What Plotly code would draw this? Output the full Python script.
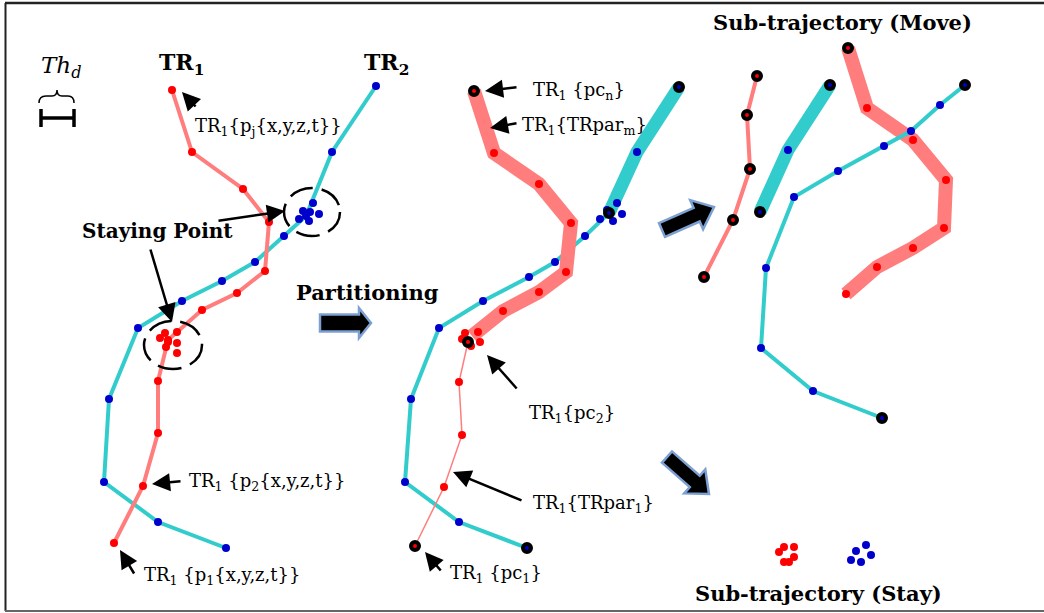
import plotly.graph_objects as go

# ---------------- data (diagram coordinates, y grows downward) ----------------
# Left panel: raw trajectories TR1 (red) and TR2 (teal)
tr1_x = [172, 192, 243, 269, 265, 237, 202, 168, 158, 158, 143, 114]
tr1_y = [90, 152, 189, 222, 271, 293, 310, 340, 381, 433, 486, 543]
tr1_stay_x = [165, 177, 160, 168, 177, 166, 177]
tr1_stay_y = [333, 332, 338, 342, 343, 347, 353]
tr2_x = [376, 332, 306, 284, 255, 222, 182, 138, 109, 104, 158, 226]
tr2_y = [86, 152, 216, 236, 262, 281, 301, 328, 399, 482, 522, 548]
tr2_stay_x = [313, 303, 310, 319, 299, 309]
tr2_stay_y = [203, 211, 212, 214, 219, 221]

# Middle panel: partitioned trajectories
m_tr1_thick_x = [474, 494, 539, 571, 566, 539, 503, 472]
m_tr1_thick_y = [91, 153, 184, 223, 272, 292, 311, 336]
m_tr1_thin_x = [468, 459, 462, 444, 415]
m_tr1_thin_y = [342, 382, 435, 487, 546]
m_tr1_stay_x = [465, 478, 462, 480, 471]
m_tr1_stay_y = [333, 332, 339, 342, 346]
m_tr1_pc_x = [474, 468, 415]
m_tr1_pc_y = [91, 342, 546]
m_tr2_thick_x = [679, 637, 609]
m_tr2_thick_y = [87, 152, 213]
m_tr2_thin_x = [609, 585, 555, 529, 483, 439, 411, 405, 459, 527]
m_tr2_thin_y = [213, 236, 262, 277, 301, 328, 399, 482, 522, 548]
m_tr2_stay_x = [617, 607, 622, 600, 613]
m_tr2_stay_y = [203, 210, 214, 219, 221]
m_tr2_pc_x = [679, 609, 527]
m_tr2_pc_y = [87, 213, 548]

# Right panel: sub-trajectories (move)
r_red_thin_x = [757, 747, 750, 733, 704]
r_red_thin_y = [76, 115, 169, 220, 277]
r_teal_thick_x = [830, 788, 760]
r_teal_thick_y = [85, 150, 212]
r_teal_thin_x = [965, 940, 911, 884, 838, 794, 766, 761, 813, 882]
r_teal_thin_y = [85, 105, 131, 146, 171, 197, 268, 348, 391, 418]
r_red_thick_x = [848, 867, 913, 946, 944, 913, 877, 846]
r_red_thick_y = [48, 108, 140, 180, 228, 248, 267, 294]
# sub-trajectories (stay)
stay_red_x = [784, 794, 779, 794, 784, 789]
stay_red_y = [547, 547, 552, 557, 562, 562]
stay_blue_x = [866, 856, 871, 851, 861]
stay_blue_y = [545, 551, 555, 560, 562]

# ---------------- styles ----------------
RED_LINE = "rgb(255,125,125)"
RED_DOT = "#FF0000"
TEAL = "rgb(51,204,204)"
BLUE_DOT = "#0000CC"
FONT = "DejaVu Serif"

fig = go.Figure()


def line(xs, ys, color, width):
    fig.add_trace(go.Scatter(x=xs, y=ys, mode="lines",
                             line=dict(color=color, width=width),
                             hoverinfo="skip", showlegend=False))


def dots(xs, ys, color, size=8):
    fig.add_trace(go.Scatter(x=xs, y=ys, mode="markers",
                             marker=dict(color=color, size=size, line=dict(width=0)),
                             hoverinfo="skip", showlegend=False))


def rings(xs, ys, color):
    fig.add_trace(go.Scatter(x=xs, y=ys, mode="markers",
                             marker=dict(color=color, size=8,
                                         line=dict(color="black", width=4)),
                             hoverinfo="skip", showlegend=False))


# left panel
line(tr2_x, tr2_y, TEAL, 4)
line(tr1_x, tr1_y, RED_LINE, 4)
dots(tr2_x, tr2_y, BLUE_DOT)
dots(tr2_stay_x, tr2_stay_y, BLUE_DOT)
dots(tr1_x, tr1_y, RED_DOT)
dots(tr1_stay_x, tr1_stay_y, RED_DOT)

# middle panel
line(m_tr2_thin_x, m_tr2_thin_y, TEAL, 4)
line(m_tr2_thick_x, m_tr2_thick_y, TEAL, 13)
line(m_tr1_thick_x, m_tr1_thick_y, RED_LINE, 14)
line(m_tr1_thin_x, m_tr1_thin_y, RED_LINE, 1.5)
dots(m_tr2_thick_x[1:-1] + m_tr2_thin_x[1:-1], m_tr2_thick_y[1:-1] + m_tr2_thin_y[1:-1], BLUE_DOT)
dots(m_tr2_stay_x, m_tr2_stay_y, BLUE_DOT)
rings(m_tr2_pc_x, m_tr2_pc_y, BLUE_DOT)
dots(m_tr1_thick_x[1:-1] + m_tr1_thin_x[1:-1], m_tr1_thick_y[1:-1] + m_tr1_thin_y[1:-1], RED_DOT)
dots(m_tr1_stay_x, m_tr1_stay_y, RED_DOT)
rings(m_tr1_pc_x, m_tr1_pc_y, RED_DOT)

# right panel
line(r_red_thick_x, r_red_thick_y, RED_LINE, 14)
line(r_red_thin_x, r_red_thin_y, RED_LINE, 4)
line(r_teal_thick_x, r_teal_thick_y, TEAL, 13)
line(r_teal_thin_x, r_teal_thin_y, TEAL, 4)
dots(r_red_thick_x[1:], r_red_thick_y[1:], RED_DOT)
rings(r_red_thick_x[:1], r_red_thick_y[:1], RED_DOT)
rings(r_red_thin_x, r_red_thin_y, RED_DOT)
dots(r_teal_thick_x[1:-1], r_teal_thick_y[1:-1], BLUE_DOT)
rings([r_teal_thick_x[0], r_teal_thick_x[-1]], [r_teal_thick_y[0], r_teal_thick_y[-1]], BLUE_DOT)
dots(r_teal_thin_x[1:-1], r_teal_thin_y[1:-1], BLUE_DOT)
rings([r_teal_thin_x[0], r_teal_thin_x[-1]], [r_teal_thin_y[0], r_teal_thin_y[-1]], BLUE_DOT)
dots(stay_red_x, stay_red_y, RED_DOT)
dots(stay_blue_x, stay_blue_y, BLUE_DOT)

# ---------------- shapes ----------------
shapes = []
# frame
shapes.append(dict(type="line", x0=5, x1=1044, y0=3, y1=3, line=dict(color="#222", width=2.5)))
shapes.append(dict(type="line", x0=5.5, x1=5.5, y0=3, y1=611, line=dict(color="#222", width=2)))
shapes.append(dict(type="line", x0=5, x1=1044, y0=611, y1=611, line=dict(color="#666", width=2)))

# dashed ellipses around staying points
for cx, cy, rx, ry in [(312, 212, 28, 24), (173, 345, 29, 24)]:
    shapes.append(dict(type="circle", x0=cx - rx, x1=cx + rx, y0=cy - ry, y1=cy + ry,
                       line=dict(color="black", width=2.5, dash="24px,9px")))

# Th_d brace and bar
shapes.append(dict(type="path",
                   path="M 39 103 Q 39 96 46 96 L 52 96 Q 57 96 57 90 Q 57 96 62 96 L 68 96 Q 74 96 74 103",
                   line=dict(color="black", width=1.5)))
shapes.append(dict(type="line", x0=41, x1=74, y0=118, y1=118, line=dict(color="black", width=3.5)))
shapes.append(dict(type="line", x0=41, x1=41, y0=109, y1=127, line=dict(color="black", width=3.5)))
shapes.append(dict(type="line", x0=74, x1=74, y0=109, y1=127, line=dict(color="black", width=3.5)))


def block_arrow(x0, y0, x1, y1, bw, hw, hl):
    import math
    dx, dy = x1 - x0, y1 - y0
    L = math.hypot(dx, dy)
    ux, uy = dx / L, dy / L
    px, py = -uy, ux
    bx, by = x1 - ux * hl, y1 - uy * hl
    pts = [
        (x0 + px * bw, y0 + py * bw),
        (bx + px * bw, by + py * bw),
        (bx + px * hw, by + py * hw),
        (x1, y1),
        (bx - px * hw, by - py * hw),
        (bx - px * bw, by - py * bw),
        (x0 - px * bw, y0 - py * bw),
    ]
    path = "M " + " L ".join(f"{a:.1f} {b:.1f}" for a, b in pts) + " Z"
    return dict(type="path", path=path, fillcolor="black",
                line=dict(color="rgb(125,160,210)", width=2.5))


shapes.append(block_arrow(320, 323, 371, 323, 8.5, 15, 12))
shapes.append(block_arrow(662, 230, 714, 207, 7.5, 16, 19))
shapes.append(block_arrow(667, 457, 709, 494, 7.5, 16, 19))

# ---------------- annotations ----------------
ann = []


def text(x, y, s, size=18, bold=False, anchor="left", italic=False):
    if bold:
        s = f"<b>{s}</b>"
    if italic:
        s = f"<i>{s}</i>"
    ann.append(dict(x=x, y=y, text=s, showarrow=False, xanchor=anchor, yanchor="middle",
                    font=dict(family=FONT, size=size, color="black")))


def arrow(tx, ty, hx, hy, w=2.5, size=1.45):
    ann.append(dict(x=hx, y=hy, ax=tx, ay=ty, axref="x", ayref="y", xref="x", yref="y",
                    text="", showarrow=True, arrowhead=2, arrowsize=size,
                    arrowwidth=w, arrowcolor="black", standoff=0))


text(61, 67, "Th<sub>d</sub>", size=23, italic=True, anchor="center")
text(181, 64, "TR<sub>1</sub>", size=22, bold=True, anchor="center")
text(386, 64, "TR<sub>2</sub>", size=22, bold=True, anchor="center")
text(193, 127, "TR<sub>1</sub>{p<sub>j</sub>{x,y,z,t}}")
text(157, 231, "Staying Point", size=20, bold=True, anchor="center")
text(294, 292, "Partitioning", size=21, bold=True)
text(187, 482, "TR<sub>1</sub> {p<sub>2</sub>{x,y,z,t}}")
text(142, 576, "TR<sub>1</sub> {p<sub>1</sub>{x,y,z,t}}")
text(531, 91, "TR<sub>1</sub> {pc<sub>n</sub>}")
text(520, 126, "TR<sub>1</sub>{TRpar<sub>m</sub>}")
text(527, 414, "TR<sub>1</sub>{pc<sub>2</sub>}")
text(531, 504, "TR<sub>1</sub>{TRpar<sub>1</sub>}")
text(448, 574, "TR<sub>1</sub> {pc<sub>1</sub>}")
text(842, 22, "Sub-trajectory (Move)", size=21, bold=True, anchor="center")
text(818, 593, "Sub-trajectory (Stay)", size=21, bold=True, anchor="center")

arrow(197, 108, 182, 92)
arrow(217, 221, 285, 211)
arrow(150, 248, 172, 322)
arrow(182, 481, 152, 484)
arrow(135, 575, 120, 550)
arrow(518, 87, 485, 91)
arrow(518, 123, 490, 128)
arrow(518, 390, 487, 355)
arrow(523, 501, 453, 472)
arrow(442, 572, 425, 552)

fig.update_layout(
    width=1044, height=613,
    margin=dict(l=0, r=0, t=0, b=0),
    paper_bgcolor="white", plot_bgcolor="white",
    xaxis=dict(range=[0, 1044], visible=False, fixedrange=True),
    yaxis=dict(range=[613, 0], visible=False, fixedrange=True),
    shapes=shapes, annotations=ann, showlegend=False,
)

fig.write_html("out.html", config={"displayModeBar": False},
               post_script="document.body.style.margin='0px';document.body.style.overflow='hidden';")
